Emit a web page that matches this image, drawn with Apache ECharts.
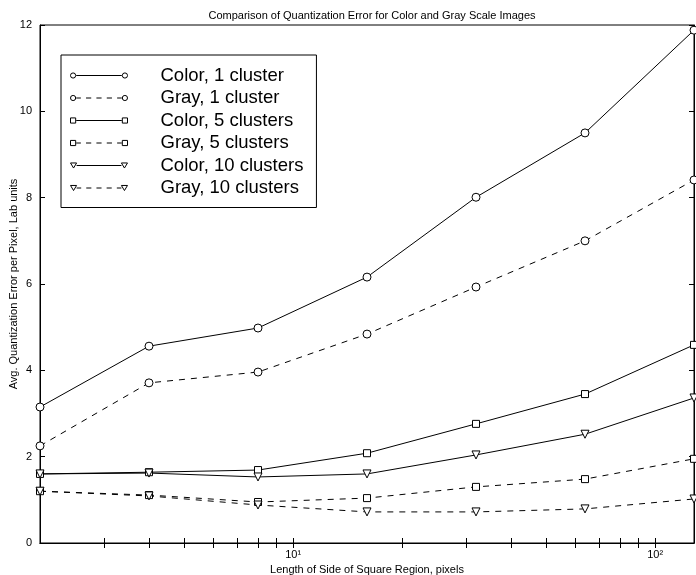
<!DOCTYPE html>
<html>
<head>
<meta charset="utf-8">
<script src="https://cdn.jsdelivr.net/npm/echarts@6/dist/echarts.min.js"></script>
<style>
html,body{margin:0;padding:0;background:#fff;}
#chart{width:696px;height:575px;}
</style>
</head>
<body>
<div id="chart"></div>
<script>
// region side length, pixels
const sides = [2, 4, 8, 16, 32, 64, 128];

const color1 = [3.15, 4.56, 4.98, 6.16, 8.01, 9.50, 11.88];
const gray1 = [2.25, 3.71, 3.96, 4.84, 5.93, 7.00, 8.41];
const color5 = [1.60, 1.64, 1.69, 2.08, 2.76, 3.45, 4.59];
const gray5 = [1.20, 1.11, 0.95, 1.04, 1.30, 1.48, 1.95];
const color10 = [1.60, 1.62, 1.53, 1.60, 2.04, 2.52, 3.36];
const gray10 = [1.20, 1.09, 0.88, 0.72, 0.72, 0.79, 1.02];

const names = ['Color, 1 cluster','Gray, 1 cluster','Color, 5 clusters','Gray, 5 clusters','Color, 10 clusters','Gray, 10 clusters'];
const xTicks = [3,4,5,6,7,8,9,10,20,30,40,50,60,70,80,90,100];
const xLabels = [10, 100];

const font = 'Liberation Sans, Arial, sans-serif';

// legend icons: marker - line - marker
const solid = 'M6.5 4 L50.5 4';
const dashed = 'M6.5 4 L11 4 M16 4 L21 4 M26 4 L31 4 M36 4 L41 4 M46 4 L50.5 4';
const circ = x => `M${x-2.5} 4 A2.5 2.5 0 1 1 ${x+2.5} 4 A2.5 2.5 0 1 1 ${x-2.5} 4 Z`;
const sq = x => `M${x-2.5} 1.5 L${x+2.5} 1.5 L${x+2.5} 6.5 L${x-2.5} 6.5 Z`;
const tri = x => `M${x-3} 1.5 L${x+3} 1.5 L${x} 6.5 Z`;
const mk = (m, line) => 'path://' + m(3.5) + ' ' + line + ' ' + m(53.5);
const icons = [mk(circ,solid), mk(circ,dashed), mk(sq,solid), mk(sq,dashed), mk(tri,solid), mk(tri,dashed)];

const allData = [color1, gray1, color5, gray5, color10, gray10];
const symbols = ['circle','circle','rect','rect','triangle','triangle'];
const symSizes = [8,8,7,7,8,8];

const chart = echarts.init(document.getElementById('chart'), null, {renderer:'canvas'});

const series = allData.map((vals, i) => ({
    name: names[i],
    type: 'line',
    data: vals.map((v, k) => [sides[k], v]),
    symbol: symbols[i],
    symbolSize: symSizes[i],
    symbolRotate: symbols[i] === 'triangle' ? 180 : 0,
    showAllSymbol: true,
    lineStyle: {color:'#000', width:1, type: i % 2 ? [6,6] : 'solid'},
    itemStyle: {color:'#fff', borderColor:'#000', borderWidth:1},
    emphasis: {disabled:true},
    animation: false
}));

const xAxisBase = {
    type: 'log',
    logBase: 10,
    min: 2,
    max: 128,
    axisLine: {show:true, lineStyle:{color:'#000', width:1}},
    splitLine: {show:false},
    minorTick: {show:false}
};

const option = {
    animation: false,
    title: {
        text: 'Comparison of Quantization Error for Color and Gray Scale Images',
        left: 367, top: 5, textAlign: 'center',
        textStyle: {fontFamily: font, fontSize: 11, fontWeight: 'normal', color:'#000'}
    },
    grid: {
        left:40, right:2, top:25, bottom:32,
        containLabel:false, outerBoundsMode:'none',
        show:true, borderColor:'#000', borderWidth:1, backgroundColor:'#fff'
    },
    legend: {
        orient: 'vertical',
        left: 61, top: 55,
        padding: [11, 13, 10, 9],
        itemGap: 3.5,
        itemWidth: 57, itemHeight: 8,
        borderColor: '#000', borderWidth: 1,
        backgroundColor: '#fff',
        selectedMode: false,
        textStyle: {fontFamily: font, fontSize: 18.5, color:'#000', lineHeight: 18, padding:[0,0,0,28]},
        data: names.map((n, i) => ({
            name: n,
            icon: icons[i],
            itemStyle: {color:'transparent', borderColor:'#000', borderWidth:1}
        }))
    },
    xAxis: [
        Object.assign({}, xAxisBase, {
            position: 'bottom',
            name: 'Length of Side of Square Region, pixels',
            nameLocation: 'middle',
            nameGap: 21,
            nameMoveOverlap: false,
            nameTextStyle: {fontFamily: font, fontSize: 11, color:'#000'},
            axisTick: {show:true, inside:true, length:5, lineStyle:{color:'#000'}, customValues: xTicks},
            axisLabel: {
                show: true, margin: 6, customValues: xLabels,
                fontFamily: font, fontSize: 11, color:'#000',
                formatter: v => v === 10 ? '10\u00b9' : '10\u00b2'
            }
        }),
        Object.assign({}, xAxisBase, {
            position: 'top',
            axisTick: {show:true, inside:true, length:5, lineStyle:{color:'#000'}, customValues: xTicks},
            axisLabel: {show:false}
        })
    ],
    yAxis: [
        {
            type: 'value', min: 0, max: 12, interval: 2,
            name: 'Avg. Quantization Error per Pixel, Lab units',
            nameLocation: 'middle', nameGap: 21,
            nameMoveOverlap: false,
            nameTextStyle: {fontFamily: font, fontSize: 11, color:'#000'},
            axisLine: {show:true, lineStyle:{color:'#000'}},
            axisTick: {show:true, inside:true, length:5, lineStyle:{color:'#000'}},
            axisLabel: {fontFamily: font, fontSize: 11, color:'#000', margin: 8},
            splitLine: {show:false}
        },
        {
            type: 'value', min: 0, max: 12, interval: 2, position: 'right',
            axisLine: {show:true, lineStyle:{color:'#000'}},
            axisTick: {show:true, inside:true, length:5, lineStyle:{color:'#000'}},
            axisLabel: {show:false},
            splitLine: {show:false}
        }
    ],
    series: series
};

chart.setOption(option);
</script>
</body>
</html>
